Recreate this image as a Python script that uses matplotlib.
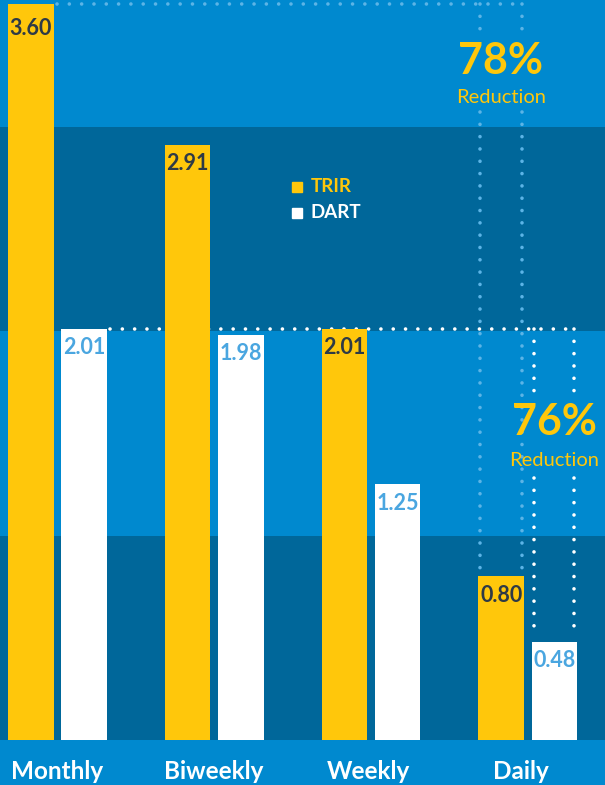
import matplotlib.pyplot as plt

# data
periods = ['Monthly', 'Biweekly', 'Weekly', 'Daily']
trir = [3.60, 2.91, 2.01, 0.80]
dart = [2.01, 1.98, 1.25, 0.48]
trir_cut = '78%'
dart_cut = '76%'

LIGHT = '#0089CF'
DARK = '#00679A'
YELLOW = '#FFC70B'
DOTBLUE = '#5CB4E6'

plt.rcParams['font.family'] = ['Lato', 'DejaVu Sans']

fig = plt.figure(figsize=(6.05, 7.85), dpi=100, facecolor=LIGHT)
ax = fig.add_axes([0, 0, 1, 1])
ax.set_facecolor(LIGHT)
ax.set_xlim(-0.367, 3.492)
ax.set_ylim(-0.22, 3.619)
ax.axis('off')

# alternating bands
for lo, hi, c in [(0, 1, DARK), (1, 2, LIGHT), (2, 3, DARK), (3, 4, LIGHT)]:
    ax.axhspan(lo, hi, color=c, zorder=0, lw=0)

w = 0.29
off = 0.17
xs = list(range(len(periods)))
ax.bar([x - off for x in xs], trir, width=w, color=YELLOW, zorder=3)
ax.bar([x + off for x in xs], dart, width=w, color='white', zorder=3)

drop = 0.092
for x, v in zip(xs, trir):
    d = drop + 0.03 if v == max(trir) else drop  # top label sits a bit lower
    ax.text(x - off, v - d, f'{v:.2f}', ha='center', va='center',
            fontsize=15.5, fontweight='bold', color='#2E3A46', zorder=4)
for x, v in zip(xs, dart):
    ax.text(x + off, v - drop, f'{v:.2f}', ha='center', va='center',
            fontsize=15.5, fontweight='bold', color='#4AA6E0', zorder=4)

nudge = [0, -0.005, -0.015, -0.045]
for x, p, n in zip(xs, periods, nudge):
    ax.text(x + n, -0.152, p, ha='center', va='center', fontsize=17.5,
            fontweight='bold', color='white')

dots = dict(ls=(0, (0.01, 3.4)), lw=2.6, dash_capstyle='round', zorder=2)

# TRIR: monthly -> daily
x_left = xs[0] - off + w / 2 + 0.02
xa = xs[3] - off - w / 2 + 0.008
xb = xs[3] - off + w / 2 - 0.012
ax.plot([x_left, xb], [trir[0], trir[0]], color=DOTBLUE, **dots)
for xv in (xa, xb):
    ax.plot([xv, xv], [trir[0], 3.43], color=DOTBLUE, **dots)
    ax.plot([xv, xv], [3.07, trir[3]], color=DOTBLUE, **dots)
ax.text((xa + xb) / 2, 3.32, trir_cut, ha='center', va='center',
        fontsize=31, fontweight='bold', color=YELLOW, zorder=5)
ax.text((xa + xb) / 2, 3.144, 'Reduction', ha='center', va='center',
        fontsize=14.5, color=YELLOW, zorder=5)

# DART: monthly -> daily
x_left = xs[0] + off + w / 2 + 0.02
xc = xs[3] + off - w / 2 + 0.012
xd = xs[3] + off + w / 2 - 0.018
ax.plot([x_left, xd], [dart[0], dart[0]], color='white', **dots)
for xv in (xc, xd):
    ax.plot([xv, xv], [dart[0], 1.66], color='white', **dots)
    ax.plot([xv, xv], [1.28, dart[3] + 0.03], color='white', **dots)
ax.text((xc + xd) / 2, 1.555, dart_cut, ha='center', va='center',
        fontsize=31, fontweight='bold', color=YELLOW, zorder=5)
ax.text((xc + xd) / 2, 1.369, 'Reduction', ha='center', va='center',
        fontsize=14.5, color=YELLOW, zorder=5)

# legend
lx = 1.53
for y, lab, c in [(2.705, 'TRIR', YELLOW), (2.578, 'DART', 'white')]:
    ax.plot([lx], [y], marker='s', ms=7.5, color=c, lw=0, zorder=5)
    ax.text(lx + 0.085, y, lab, ha='left', va='center', fontsize=13.5,
            fontweight='bold', color=c, zorder=5)

fig.savefig('out.png', dpi=100, facecolor=LIGHT)
